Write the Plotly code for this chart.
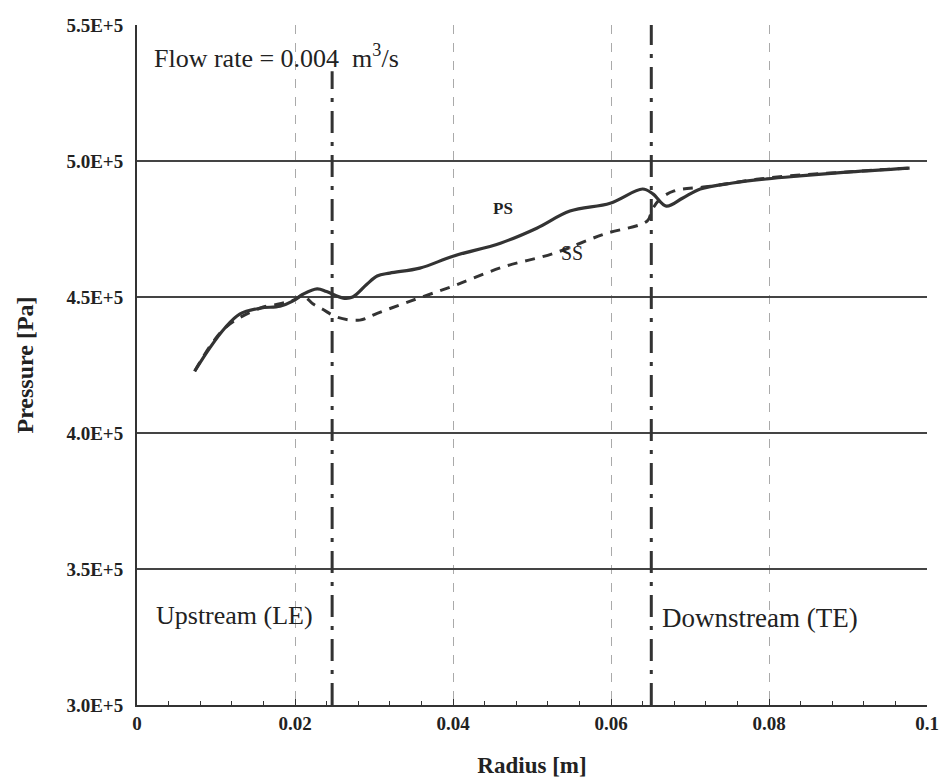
import plotly.graph_objects as go

# Pressure side (solid)
ps_x = [0.0073, 0.0092, 0.0111, 0.0130, 0.0156, 0.0181, 0.0197, 0.0210, 0.0228, 0.0240,
        0.0261, 0.0273, 0.0291, 0.0304, 0.0320, 0.0358, 0.0400, 0.0460, 0.0506, 0.0548,
        0.0599, 0.0640, 0.0653, 0.0670, 0.0691, 0.0713, 0.0754, 0.0797, 0.0839, 0.0903, 0.0978]
ps_y = [4.227e5, 4.312e5, 4.385e5, 4.437e5, 4.459e5, 4.466e5, 4.485e5, 4.510e5, 4.530e5, 4.520e5,
        4.496e5, 4.500e5, 4.547e5, 4.577e5, 4.588e5, 4.606e5, 4.650e5, 4.698e5, 4.753e5, 4.816e5,
        4.845e5, 4.897e5, 4.879e5, 4.834e5, 4.864e5, 4.897e5, 4.919e5, 4.934e5, 4.945e5, 4.960e5, 4.974e5]

# Suction side (dashed)
ss_x = [0.0073, 0.0111, 0.0156, 0.0181, 0.0200, 0.0210, 0.0223, 0.0235, 0.0253, 0.0282,
        0.0304, 0.0346, 0.0400, 0.0463, 0.0527, 0.0590, 0.0646, 0.0652, 0.0662, 0.0680,
        0.0720, 0.0800, 0.0900, 0.0978]
ss_y = [4.227e5, 4.385e5, 4.459e5, 4.475e5, 4.490e5, 4.505e5, 4.474e5, 4.455e5, 4.426e5, 4.415e5,
        4.440e5, 4.485e5, 4.540e5, 4.610e5, 4.660e5, 4.730e5, 4.780e5, 4.820e5, 4.860e5, 4.890e5,
        4.905e5, 4.938e5, 4.960e5, 4.974e5]

# Leading / trailing edge positions
le_x = 0.0247
te_x = 0.0651

y_ticks = [3.0e5, 3.5e5, 4.0e5, 4.5e5, 5.0e5, 5.5e5]
y_labels = ["3.0E+5", "3.5E+5", "4.0E+5", "4.5E+5", "5.0E+5", "5.5E+5"]
x_ticks = [0, 0.02, 0.04, 0.06, 0.08, 0.1]
x_labels = ["0", "0.02", "0.04", "0.06", "0.08", "0.1"]

serif = "Liberation Serif"
ink = "#333333"
txt = "#222222"
dashdot = "22px,9px,4px,9px"

fig = go.Figure()

fig.add_trace(go.Scatter(x=[le_x, le_x], y=[3.0e5, 5.33e5], mode="lines",
                         line=dict(color=ink, width=3, dash=dashdot), showlegend=False))
fig.add_trace(go.Scatter(x=[te_x, te_x], y=[3.0e5, 5.5e5], mode="lines",
                         line=dict(color=ink, width=3, dash=dashdot), showlegend=False))
fig.add_trace(go.Scatter(x=ss_x, y=ss_y, mode="lines",
                         line=dict(color=ink, width=3, dash="10px,8px", shape="spline"),
                         showlegend=False))
fig.add_trace(go.Scatter(x=ps_x, y=ps_y, mode="lines",
                         line=dict(color=ink, width=3.2, shape="spline"), showlegend=False))

fig.add_annotation(x=0.0019, y=5.385e5, text="Flow rate = 0.004  m<sup>3</sup>/s", showarrow=False,
                   xanchor="left", font=dict(family=serif, size=26, color=txt))
fig.add_annotation(x=0.0463, y=4.827e5, text="<b>PS</b>", showarrow=False,
                   font=dict(family=serif, size=17, color=txt))
fig.add_annotation(x=0.0551, y=4.66e5, text="SS", showarrow=False,
                   font=dict(family=serif, size=20, color=txt))
fig.add_annotation(x=0.0022, y=3.33e5, text="Upstream (LE)", showarrow=False, xanchor="left",
                   font=dict(family=serif, size=26, color=txt))
fig.add_annotation(x=0.0662, y=3.32e5, text="Downstream (TE)", showarrow=False, xanchor="left",
                   font=dict(family=serif, size=27, color=txt))

fig.update_layout(
    width=945, height=780,
    margin=dict(l=137, r=18, t=25, b=75),
    paper_bgcolor="white", plot_bgcolor="white",
    font=dict(family=serif, size=19, color=txt),
    xaxis=dict(range=[0, 0.1], tickmode="array", tickvals=x_ticks,
               ticktext=[f"<b>{t}</b>" for t in x_labels], automargin=False,
               showgrid=True, gridcolor="#aaaaaa", griddash="dash", gridwidth=1,
               showline=True, linecolor=ink, linewidth=2,
               ticks="inside", ticklen=6, tickcolor=ink,
               minor=dict(dtick=0.004, ticks="inside", ticklen=4, tickcolor=ink, showgrid=False),
               tickfont=dict(family=serif, size=19, color=txt),
               title=dict(text="<b>Radius [m]</b>", font=dict(family=serif, size=23, color=txt),
                          standoff=24),
               zeroline=False),
    yaxis=dict(range=[3.0e5, 5.5e5], tickmode="array", tickvals=y_ticks,
               ticktext=[f"<b>{t}</b>" for t in y_labels], automargin=False,
               showgrid=True, gridcolor="#444444", gridwidth=1.5,
               showline=True, linecolor=ink, linewidth=2,
               ticks="", ticklabelstandoff=8,
               tickfont=dict(family=serif, size=19, color=txt),
               title=dict(text="<b>Pressure [Pa]</b>", font=dict(family=serif, size=24, color=txt),
                          standoff=26),
               zeroline=False),
)

fig.write_html("out.html")
